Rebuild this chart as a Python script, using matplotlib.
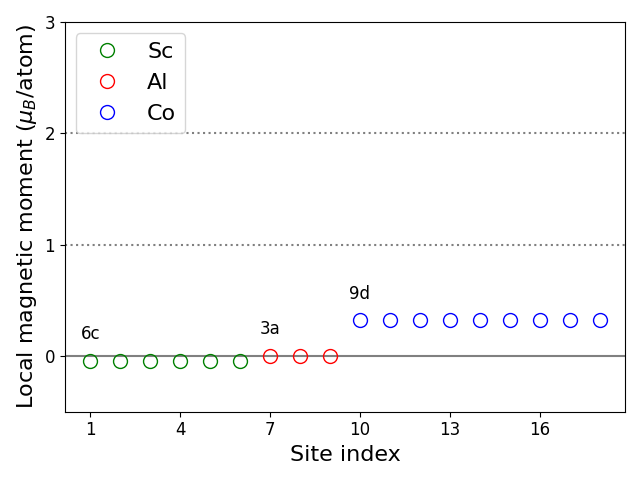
import matplotlib
matplotlib.use("Agg")
import matplotlib.pyplot as plt
import numpy as np

# site indices and local moments
sc_sites = [1, 2, 3, 4, 5, 6]
sc_mom = [-0.045, -0.045, -0.045, -0.045, -0.045, -0.045]
al_sites = [7, 8, 9]
al_mom = [0.0, 0.0, 0.0]
co_sites = [10, 11, 12, 13, 14, 15, 16, 17, 18]
co_mom = [0.32, 0.32, 0.32, 0.32, 0.32, 0.32, 0.32, 0.32, 0.32]

wyckoff = ["6c", "3a", "9d"]
wy_x = [sc_sites[0], al_sites[0], co_sites[0]]
wy_y = [sc_mom[0], al_mom[0], co_mom[0]]

fig, ax = plt.subplots(figsize=(6.4, 4.8), dpi=100)

ax.axhline(0, color='gray', lw=1.5)
ax.axhline(1, color='gray', ls=':', lw=1.5)
ax.axhline(2, color='gray', ls=':', lw=1.5)

ax.plot(sc_sites, sc_mom, 'o', mfc='none', mec='green', ms=10, label='Sc')
ax.plot(al_sites, al_mom, 'o', mfc='none', mec='red', ms=10, label='Al')
ax.plot(co_sites, co_mom, 'o', mfc='none', mec='blue', ms=10, label='Co')

for lab, x, y in zip(wyckoff, wy_x, wy_y):
    ax.text(x, y + 0.16, lab, fontsize=12, ha='center', va='bottom')

ax.set_ylim(-0.5, 3)
ax.set_xticks([1, 4, 7, 10, 13, 16])
ax.set_yticks([0, 1, 2, 3])
ax.tick_params(labelsize=12)
ax.set_xlabel('Site index', fontsize=16)
ax.set_ylabel(r'Local magnetic moment ($\mu_B$/atom)', fontsize=16)
ax.legend(loc='upper left', fontsize=16)

fig.tight_layout()
fig.savefig('out.png')
